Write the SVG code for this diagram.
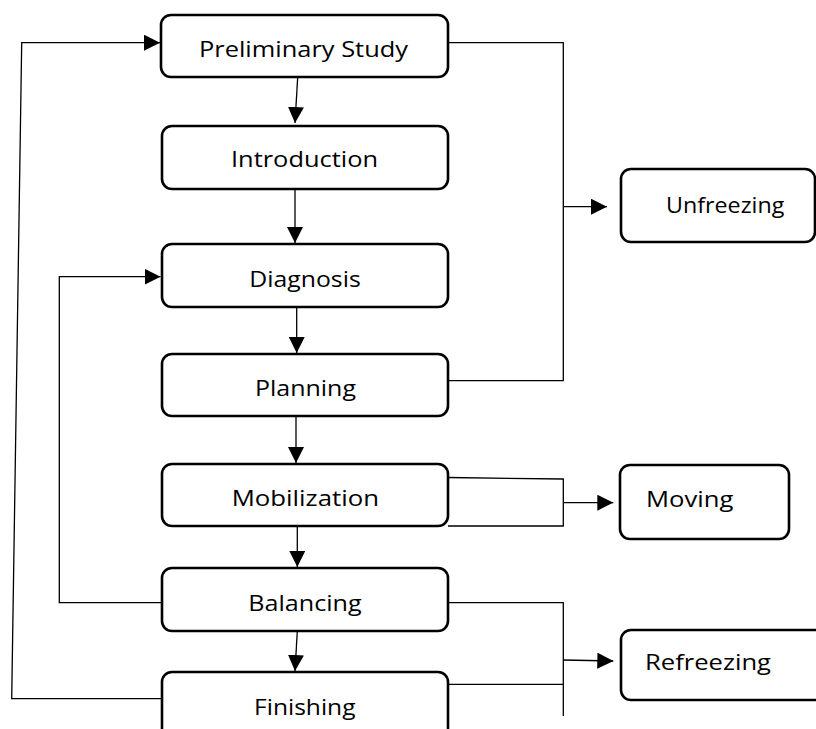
<svg xmlns="http://www.w3.org/2000/svg" width="816" height="729" viewBox="0 0 816 729">
<style>
.box{fill:#fff;stroke:#000;stroke-width:2.6}
.lbl{font-family:"Open Sans","Liberation Sans",sans-serif;font-size:22px;fill:#000}
.con{fill:none;stroke:#000;stroke-width:1.3}
</style>
<defs>
<marker id="ah" markerUnits="userSpaceOnUse" markerWidth="16" markerHeight="16" viewBox="0 0 16 16" refX="16" refY="8" orient="auto">
<path d="M0,0 L16,8 L0,16 Z" fill="#000"/>
</marker>
</defs>
<rect width="816" height="729" fill="#fff"/>
<g id="connectors">
<path class="con" d="M297.7,77 L295,123" marker-end="url(#ah)"/>
<path class="con" d="M295,189 L295,243" marker-end="url(#ah)"/>
<path class="con" d="M296.7,307 L296.7,353" marker-end="url(#ah)"/>
<path class="con" d="M296,416 L296,463" marker-end="url(#ah)"/>
<path class="con" d="M297.3,526 L297.3,567" marker-end="url(#ah)"/>
<path class="con" d="M297.3,631 L295,671" marker-end="url(#ah)"/>
<path class="con" d="M161.7,698.7 L11.7,698.7 L21.7,42.7 L160,42.7" marker-end="url(#ah)"/>
<path class="con" d="M161.7,602.7 L59.3,602.7 L59.3,276.7 L160.5,276.7" marker-end="url(#ah)"/>
<path class="con" d="M448,42.7 L563.3,42.7 L563.3,380.7 L448,380.7"/>
<path class="con" d="M563.3,206.7 L607,206.7" marker-end="url(#ah)"/>
<path class="con" d="M448,477.5 L563.3,479 L563.3,526 L448,526"/>
<path class="con" d="M563.3,502.7 L613.3,502.7" marker-end="url(#ah)"/>
<path class="con" d="M448,602.7 L563.3,602.7 L563.3,716 M448,684.3 L563.3,684.3"/>
<path class="con" d="M563.3,660 L613.3,661" marker-end="url(#ah)"/>
</g>
<g id="preliminary-study"><rect class="box" x="161" y="15" width="287" height="62" rx="10"/><text class="lbl" x="199" y="57.3" textLength="209" lengthAdjust="spacingAndGlyphs">Preliminary Study</text></g>
<g id="introduction"><rect class="box" x="162" y="126" width="286" height="63" rx="10"/><text class="lbl" x="231" y="167.3" textLength="147" lengthAdjust="spacingAndGlyphs">Introduction</text></g>
<g id="diagnosis"><rect class="box" x="162" y="244" width="286" height="63" rx="10"/><text class="lbl" x="249.3" y="286.7" textLength="111.4" lengthAdjust="spacingAndGlyphs">Diagnosis</text></g>
<g id="planning"><rect class="box" x="162" y="354" width="286" height="62" rx="10"/><text class="lbl" x="255" y="395.7" textLength="101" lengthAdjust="spacingAndGlyphs">Planning</text></g>
<g id="mobilization"><rect class="box" x="162" y="464" width="286" height="62" rx="10"/><text class="lbl" x="231.7" y="506" textLength="147.3" lengthAdjust="spacingAndGlyphs">Mobilization</text></g>
<g id="balancing"><rect class="box" x="162" y="568" width="286" height="63" rx="10"/><text class="lbl" x="248.3" y="610.7" textLength="113.4" lengthAdjust="spacingAndGlyphs">Balancing</text></g>
<g id="finishing"><rect class="box" x="162" y="672" width="286" height="80" rx="10"/><text class="lbl" x="254" y="715" textLength="101.5" lengthAdjust="spacingAndGlyphs">Finishing</text></g>
<g id="unfreezing"><rect class="box" x="621" y="169" width="194" height="73" rx="10"/><text class="lbl" x="666" y="213.3" textLength="118.3" lengthAdjust="spacingAndGlyphs">Unfreezing</text></g>
<g id="moving"><rect class="box" x="620" y="465" width="169" height="74" rx="10"/><text class="lbl" x="646" y="506.7" textLength="87.3" lengthAdjust="spacingAndGlyphs">Moving</text></g>
<g id="refreezing"><rect class="box" x="621" y="630" width="220" height="70" rx="10"/><text class="lbl" x="645" y="670" textLength="126" lengthAdjust="spacingAndGlyphs">Refreezing</text></g>
</svg>
